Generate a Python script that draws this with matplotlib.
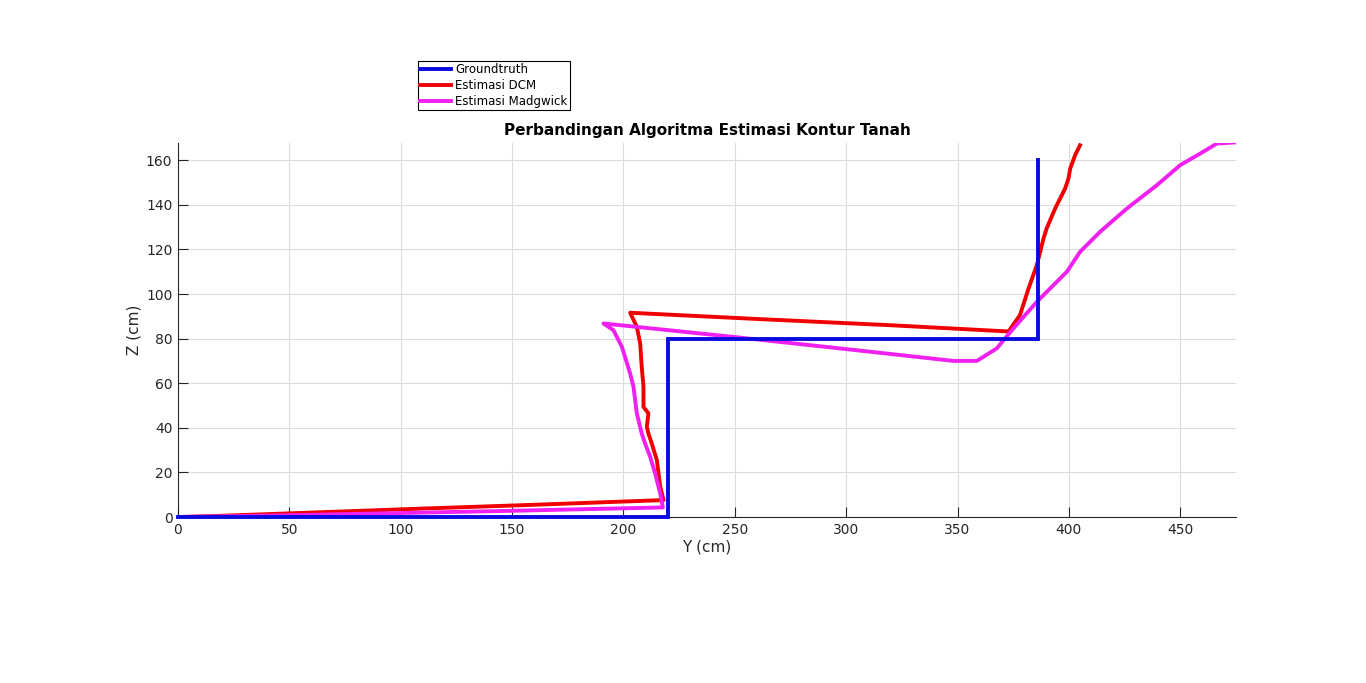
import numpy as np
from matplotlib import pyplot as plt

# Data (Y in cm, Z in cm)
# ------------------------------------------------------------------------------------------------------------
gt_y = [0, 220, 220, 386, 386]
gt_z = [0, 0, 80, 80, 160]

dcm_y = [0, 15, 60, 110, 160, 218, 216.5, 215, 212.7, 211.2, 210.5, 211.2, 209, 209, 208.2, 207.5, 206, 203,
         260, 320, 372.9, 378, 381.9, 385.6, 388.6, 390, 393.8, 398.3, 399.8, 400.6, 402.8, 405]
dcm_z = [0, 0.4, 2.0, 3.8, 5.5, 7.6, 13.6, 25.5, 33, 37.5, 40.5, 46.5, 49.4, 58.4, 67.4, 77.9, 85.3, 91.6,
         88.8, 86, 83.2, 90.5, 102.5, 113, 124.9, 129.4, 138.3, 147.3, 151.8, 156.3, 162.3, 166.7]

mad_y = [0, 50, 100, 150, 217.7, 216.5, 214.2, 212, 209.7, 208.2, 206, 204.5, 203, 199.3, 195.5, 191,
         250, 300, 348.2, 358.7, 367.6, 375.1, 385.6, 399.1, 405, 414, 426, 439.5, 450, 459, 466.5, 475.5]
mad_z = [0, 0.8, 1.8, 2.8, 4.3, 10.6, 19.6, 27, 33, 37.5, 46.5, 58.4, 64.4, 76.3, 83.8, 86.8,
         80.7, 75.3, 70, 70, 75.6, 84.6, 96.5, 110, 118.9, 127.9, 138.3, 148.8, 157.8, 163, 167.5, 168]
# ------------------------------------------------------------------------------------------------------------

fig = plt.figure(figsize=(13.66, 6.83), dpi=100)
ax = fig.add_axes([0.1303, 0.243, 0.7745, 0.5476])

lw = 2.8
ax.plot(gt_y, gt_z, color='#0a0ae0', lw=lw, label='Groundtruth', solid_joinstyle='miter', zorder=3,
        clip_on=False)
ax.plot(dcm_y, dcm_z, color='#f00000', lw=lw, label='Estimasi DCM', zorder=2)
ax.plot(mad_y, mad_z, color='#f020f0', lw=lw, label='Estimasi Madgwick', zorder=2)

ax.set_xlim(0, 475)
ax.set_ylim(0, 167.7)
ax.set_xticks(np.arange(0, 451, 50))
ax.set_yticks(np.arange(0, 161, 20))
ax.grid(True, color='#dcdcdc', lw=0.8)
ax.set_axisbelow(True)
for side in ('top', 'right'):
    ax.spines[side].set_visible(False)
for side in ('left', 'bottom'):
    ax.spines[side].set_color('#262626')
    ax.spines[side].set_linewidth(0.8)
ax.tick_params(direction='in', length=7, width=0.8, colors='#262626', labelsize=10, pad=4)

ax.set_xlabel('Y (cm)', fontsize=11, color='#262626', labelpad=2)
ax.set_ylabel('Z (cm)', fontsize=11, color='#262626', labelpad=3)
ax.set_title('Perbandingan Algoritma Estimasi Kontur Tanah', fontsize=11, fontweight='bold', pad=6)

leg = ax.legend(loc='upper left', bbox_to_anchor=(0.2265, 1.22), fontsize=8.5, frameon=True,
                fancybox=False, borderpad=0.2, labelspacing=0.25, handlelength=2.6, handletextpad=0.4,
                borderaxespad=0)
leg.get_frame().set_edgecolor('black')
leg.get_frame().set_linewidth(0.8)
leg.get_frame().set_alpha(1)

fig.savefig('out.png', dpi=100)
